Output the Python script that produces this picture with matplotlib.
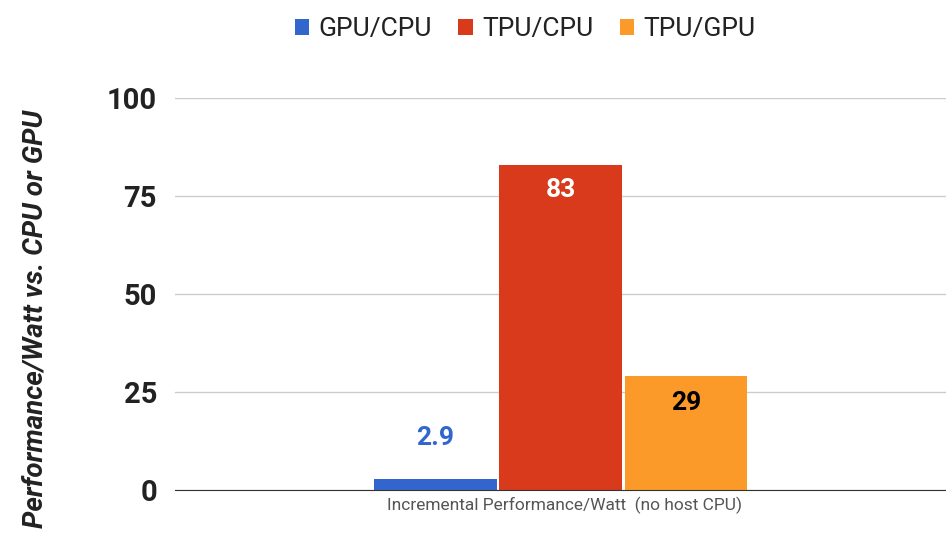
import numpy as np
import matplotlib.pyplot as plt

series = ['GPU/CPU', 'TPU/CPU', 'TPU/GPU']
values = [2.9, 83, 29]
labels = ['2.9', '83', '29']
colors = ['#3366CC', '#D93A1C', '#FB9A28']
category = 'Incremental Performance/Watt  (no host CPU)'

plt.rcParams['font.family'] = ['Roboto', 'DejaVu Sans']

fig = plt.figure(figsize=(9.46, 5.38), dpi=100)
ax = fig.add_axes([0.185, 0.089, 0.815, 0.729])

offsets = np.array([-0.162, 0.0, 0.163])
width = 0.159
bars = ax.bar(offsets, values, width=width, color=colors, label=series, zorder=3)

# value labels
ax.text(offsets[0], values[0] + 10.4, labels[0], ha='center', va='center',
        fontsize=19, fontweight='bold', color=colors[0])
ax.text(offsets[1], values[1] - 6.5, labels[1], ha='center', va='center',
        fontsize=19, fontweight='bold', color='white')
ax.text(offsets[2], values[2] - 6.8, labels[2], ha='center', va='center',
        fontsize=19, fontweight='bold', color='black')

ax.set_xlim(-0.5, 0.5)
ax.set_ylim(0, 100)
ax.set_yticks([0, 25, 50, 75, 100])
ax.set_xticks([0.005])
ax.set_xticklabels([category], fontsize=12.5, color='#555555')
ax.tick_params(axis='x', length=0, pad=5)
ax.tick_params(axis='y', length=0, pad=13, labelsize=21)
for t in ax.get_yticklabels():
    t.set_fontweight('bold')
    t.set_color('#222222')

ax.grid(axis='y', color='#cccccc', linewidth=1, zorder=0)
for s in ['top', 'right', 'left']:
    ax.spines[s].set_visible(False)
ax.spines['bottom'].set_color('#333333')
ax.spines['bottom'].set_zorder(4)

fig.text(0.037, 0.408, 'Performance/Watt vs. CPU or GPU', rotation=90,
         ha='center', va='center', fontsize=20, fontweight='bold',
         fontstyle='italic', color='#222222')

leg = fig.legend(handles=bars, labels=series, loc='upper center',
                 bbox_to_anchor=(0.555, 1.012), ncol=3, frameon=False,
                 fontsize=19, handlelength=0.55, handleheight=0.55,
                 handletextpad=0.35, columnspacing=1.0)
for t in leg.get_texts():
    t.set_color('#222222')

fig.savefig('out.png', dpi=100)
